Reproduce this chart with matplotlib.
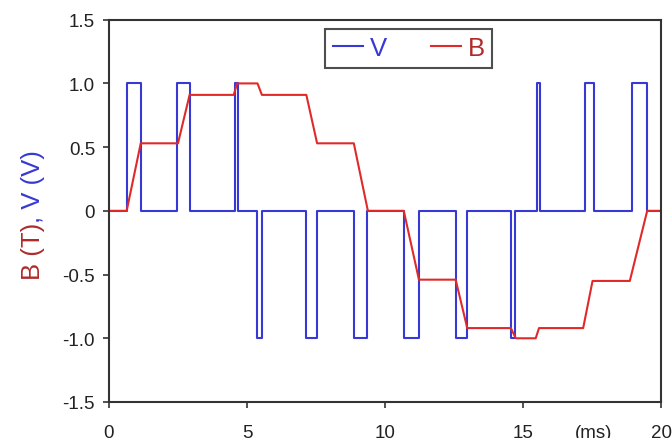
import matplotlib
matplotlib.use("Agg")
import matplotlib.pyplot as plt
from matplotlib.ticker import FixedLocator, FixedFormatter

plt.rcParams['font.family'] = ['Liberation Sans', 'DejaVu Sans']

# Voltage (step function): transition times (ms) and level after each transition (V)
v_times = [0, 0.64, 1.15, 2.48, 2.94, 4.55, 4.67, 5.38, 5.54, 7.13, 7.54, 8.86, 9.36,
           10.68, 11.23, 12.56, 12.98, 14.56, 14.72, 15.49, 15.61, 17.24, 17.58,
           18.94, 19.48, 20]
v_levels = [0, 1, 0, 1, 0, 1, 0, -1, 0, -1, 0, -1, 0,
            -1, 0, -1, 0, -1, 0, 1, 0, 1, 0,
            1, 0, 0]

# Flux density B (piecewise linear): breakpoints (ms) and values (T)
b_times = [0, 0.64, 1.15, 2.50, 2.92, 4.52, 4.64, 5.38, 5.54, 7.15, 7.54, 8.87, 9.38,
           10.68, 11.23, 12.56, 12.98, 14.56, 14.74, 15.46, 15.58, 17.18, 17.52,
           18.87, 19.50, 20]
b_values = [0, 0, 0.53, 0.53, 0.91, 0.91, 1.0, 1.0, 0.91, 0.91, 0.53, 0.53, 0,
            0, -0.54, -0.54, -0.92, -0.92, -1.0, -1.0, -0.92, -0.92, -0.55,
            -0.55, 0, 0]

x_ticks = [0, 5, 10, 15, 20]
x_tick_labels = ['0', '5', '10', '15', '20']
unit_pos = 17.57
unit_label = '(ms)'
y_ticks = [1.5, 1.0, 0.5, 0, -0.5, -1.0, -1.5]
y_tick_labels = ['1.5', '1.0', '0.5', '0', '-0.5', '-1.0', '-1.5']

blue = '#3838d4'
red = '#e02a2a'
dark_red = '#b02a2a'
axis_col = '#333333'

fig = plt.figure(figsize=(6.72, 4.39), dpi=100)
ax = fig.add_axes([109/672, 1-403/439, (661-109)/672, (403-20.7)/439])

ax.step(v_times, v_levels, where='post', color=blue, lw=1.5, label='V')
ax.plot(b_times, b_values, color=red, lw=1.5, label='B')

ax.set_xlim(0, 20)
ax.set_ylim(-1.5, 1.5)

ax.xaxis.set_major_locator(FixedLocator(x_ticks))
ax.xaxis.set_major_formatter(FixedFormatter(x_tick_labels))
ax.xaxis.set_minor_locator(FixedLocator([unit_pos]))
ax.xaxis.set_minor_formatter(FixedFormatter([unit_label]))
ax.yaxis.set_major_locator(FixedLocator(y_ticks))
ax.yaxis.set_major_formatter(FixedFormatter(y_tick_labels))

ax.tick_params(axis='x', which='major', direction='out', length=4, width=1.2,
               color=axis_col, labelsize=13.5, pad=11.5, labelcolor='#222222')
ax.tick_params(axis='x', which='minor', length=0, labelsize=13.5, pad=15.5,
               labelcolor='#222222')
ax.tick_params(axis='y', which='major', direction='out', length=4, width=1.2,
               color=axis_col, labelsize=13.5, pad=6, labelcolor='#222222')
for s in ax.spines.values():
    s.set_color(axis_col)
    s.set_linewidth(1.5)

leg = ax.legend(loc='upper center', bbox_to_anchor=(0.543, 0.975), ncol=2,
                fontsize=18.5, frameon=True, fancybox=False, handlelength=1.2,
                handletextpad=0.25, columnspacing=1.7, borderpad=0.28,
                borderaxespad=0)
leg.get_frame().set_edgecolor('#222222')
leg.get_frame().set_linewidth(1.5)
leg.get_texts()[0].set_color(blue)
leg.get_texts()[1].set_color(dark_red)

t1 = fig.text(33/672, 1-280/439, 'B (T)', rotation=90, ha='center', va='bottom',
              fontsize=18.5, color=dark_red)
ax.annotate(', V (V)', xy=(0.5, 1.0), xycoords=t1, rotation=90, ha='center',
            va='bottom', fontsize=18.5, color=blue)

fig.savefig('out.png', dpi=100)
